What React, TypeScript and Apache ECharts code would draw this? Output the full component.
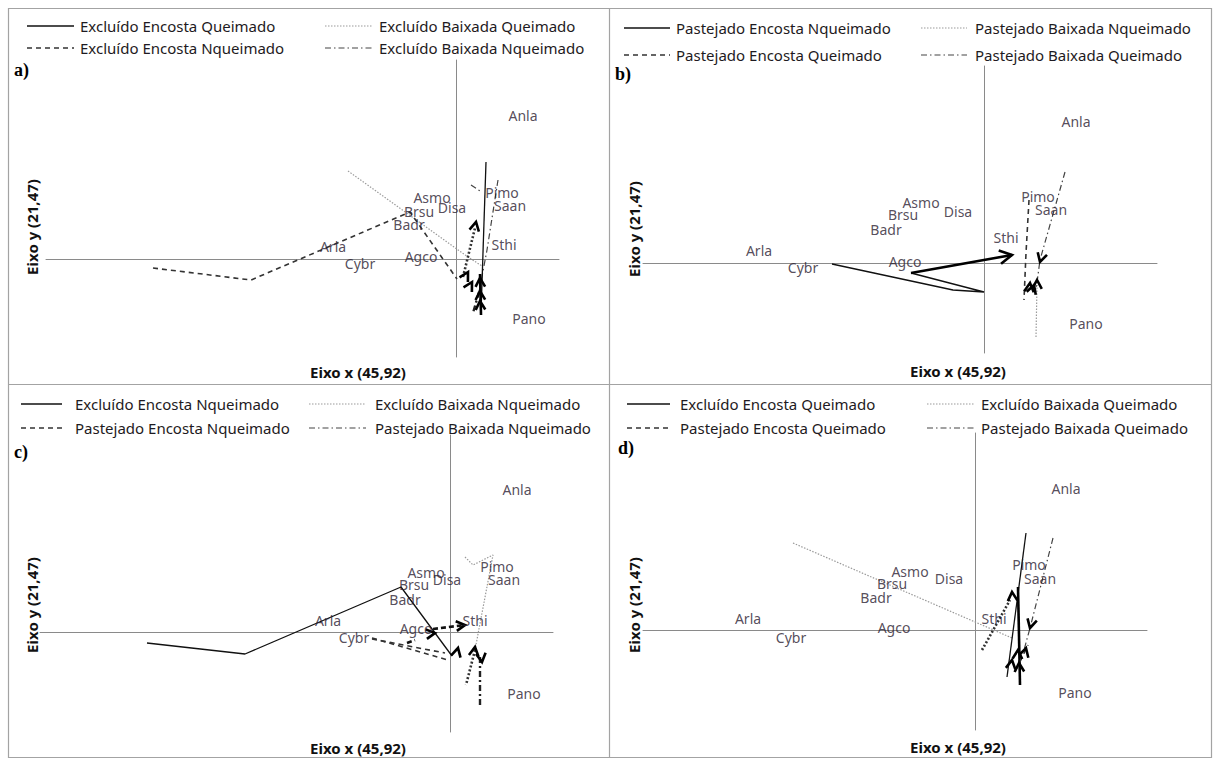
import React, { useEffect, useRef } from "react";
import * as echarts from "echarts";

// ---------- DATA ----------
const speciesNames = ["Anla", "Pimo", "Saan", "Sthi", "Asmo", "Disa", "Brsu", "Badr", "Arla", "Cybr", "Agco", "Pano"];

const aSpeciesX = [0.67, 0.46, 0.54, 0.48, -0.24, -0.04, -0.37, -0.47, -1.23, -0.96, -0.35, 0.73];
const aSpeciesY = [1.44, 0.67, 0.54, 0.15, 0.62, 0.52, 0.48, 0.35, 0.13, -0.04, 0.03, -0.59];
const bSpeciesX = [0.92, 0.54, 0.67, 0.22, -0.63, -0.26, -0.81, -0.98, -2.25, -1.81, -0.79, 1.02];
const bSpeciesY = [1.42, 0.67, 0.54, 0.26, 0.61, 0.52, 0.49, 0.34, 0.13, -0.04, 0.02, -0.6];
const cSpeciesX = [0.67, 0.47, 0.54, 0.25, -0.24, -0.03, -0.36, -0.45, -1.22, -0.96, -0.34, 0.74];
const cSpeciesY = [1.43, 0.66, 0.53, 0.12, 0.6, 0.53, 0.48, 0.33, 0.12, -0.05, 0.04, -0.61];
const dSpeciesX = [0.91, 0.54, 0.65, 0.19, -0.65, -0.26, -0.83, -0.99, -2.27, -1.84, -0.81, 1.0];
const dSpeciesY = [1.42, 0.66, 0.52, 0.12, 0.59, 0.52, 0.47, 0.33, 0.12, -0.07, 0.03, -0.62];

// axis extents per panel
const panelXRange = [[-4.1, 1.03], [-3.41, 1.73], [-4.1, 1.03], [-3.32, 1.72]];
const panelYRange = [[-0.98, 1.99], [-0.9, 1.97], [-1.0, 1.97], [-1.0, 1.97]];

// trajectories, panel a
const aExcEncQueim = [[0.3, 0.97], [0.25, -0.54]];
const aExcEncQueimB = [[0.24, -0.15], [0.25, -0.56]];
const aExcBaiQueim = [[-1.08, 0.88], [0.12, 0.02], [0.26, -0.07]];
const aExcBaiQueimB = [[0.07, -0.18], [0.19, 0.31]];
const aExcEncNqueim = [[-3.03, -0.09], [-2.05, -0.21], [-0.46, 0.47], [0.01, -0.2]];
const aExcBaiNqueim = [[0.42, 0.79], [0.31, 0.09], [0.23, -0.33]];
const aExcBaiNqueimB = [[0.23, -0.33], [0.17, -0.54]];
const aExcBaiNqueimTop = [[0.15, 0.74], [0.24, 0.68]];
const aArrows = [[0.2, 0.37, 0.12, -0.01], [0.24, -0.19, 0.25, -0.46], [0.24, -0.32, 0.25, -0.56], [0.12, -0.13, 0.02, -0.31], [0.16, -0.23, 0.07, -0.39], [0.24, -0.42, 0.25, -0.6]];

// panel b
const bPasEncNqueim = [[-1.52, -0.01], [-0.31, -0.27], [0.0, -0.29], [-0.73, -0.1]];
const bPasEncNqueimB = [[-0.73, -0.1], [0.28, 0.08]];
const bPasEncQueim = [[0.45, 0.63], [0.42, 0.1], [0.4, -0.37]];
const bPasBaiNqueim = [[0.52, -0.74], [0.53, -0.22]];
const bPasBaiQueim = [[0.81, 0.91], [0.56, 0.03], [0.52, -0.27]];
const bArrows = [[0.28, 0.08, -0.73, -0.1, 14], [0.56, 0.01, 0.81, 0.91], [0.46, -0.2, 0.44, -0.37], [0.53, -0.17, 0.53, -0.6], [0.5, -0.22, 0.46, -0.34]];

// panel c
const cExcEncNqueim = [[-3.03, -0.11], [-2.05, -0.22], [-0.49, 0.45], [0.02, -0.24]];
const cExcBaiNqueim = [[0.15, 0.75], [0.23, 0.67], [0.43, 0.77], [0.25, -0.18]];
const cExcBaiNqueimB = [[0.25, -0.18], [0.16, -0.53]];
const cPasEncNqueim = [[-0.78, -0.06], [-0.02, -0.28]];
const cPasEncNqueim2 = [[-0.78, -0.07], [-0.05, -0.21]];
const cPasEncNqueimB = [[-0.43, -0.11], [-0.35, -0.08]];
const cPasEncNqueimB2 = [[-0.17, 0.03], [0.15, 0.07]];
const cPasBaiNqueim = [[0.3, -0.73], [0.3, -0.25]];
const cArrows = [[0.08, -0.16, 0.04, -0.32], [0.25, -0.15, 0.22, -0.35], [0.32, -0.3, 0.28, 0.0], [0.15, 0.07, -0.17, 0.03], [-0.15, -0.01, -0.3, -0.03]];

// panel d
const dExcEncQueim = [[0.51, 0.97], [0.32, -0.47]];
const dExcEncQueim2 = [[0.43, 0.43], [0.45, -0.55]];
const dExcBaiQueim = [[-1.82, 0.87], [0.37, -0.08]];
const dExcBaiQueimB = [[0.07, -0.2], [0.35, 0.3]];
const dPasBaiQueim = [[0.78, 0.92], [0.55, 0.02], [0.49, -0.2]];
const dPasEncQueim = [[0.41, -0.4], [0.53, -0.15]];
const dArrows = [[0.37, 0.38, 0.39, 0.1], [0.55, 0.02, 0.78, 0.92], [0.43, -0.2, 0.41, -0.5], [0.51, -0.18, 0.45, -0.4], [0.37, -0.3, 0.33, -0.55], [0.44, -0.33, 0.45, -0.55]];

const aLegend = ["Excluído Encosta Queimado", "Excluído Baixada Queimado", "Excluído Encosta Nqueimado", "Excluído Baixada Nqueimado"];
const bLegend = ["Pastejado Encosta Nqueimado", "Pastejado Baixada Nqueimado", "Pastejado Encosta Queimado", "Pastejado Baixada Queimado"];
const cLegend = ["Excluído Encosta Nqueimado", "Excluído Baixada Nqueimado", "Pastejado Encosta Nqueimado", "Pastejado Baixada Nqueimado"];
const dLegend = ["Excluído Encosta Queimado", "Excluído Baixada Queimado", "Pastejado Encosta Queimado", "Pastejado Baixada Queimado"];

const panelLetters = ["a)", "b)", "c)", "d)"];
const xAxisTitle = "Eixo x (45,92)";
const yAxisTitle = "Eixo y (21,47)";

// ---------- STYLES / LAYOUT ----------
const FONT = "'Noto Sans', 'Open Sans', sans-serif";
const lineStyles: Record<string, any> = {
  solid: { color: "#111", width: 1.3, type: "solid" },
  solidBold: { color: "#000", width: 2.6, type: "solid" },
  dashed: { color: "#333", width: 1.6, type: [5, 4] },
  dashedBold: { color: "#111", width: 2.6, type: [5, 3] },
  dotted: { color: "#9a9a9a", width: 1.2, type: [1.5, 1.5] },
  dottedBold: { color: "#333", width: 2.6, type: [2, 2] },
  dashdot: { color: "#444", width: 1.2, type: [6, 3, 1.5, 3] },
  dashdotBold: { color: "#222", width: 2.4, type: [6, 3, 2, 3] },
};

const grids = [
  { left: 46, top: 60, width: 513, height: 297 },
  { left: 643, top: 66, width: 514, height: 287 },
  { left: 40, top: 435, width: 513, height: 297 },
  { left: 643, top: 433, width: 504, height: 297 },
];

const legendLayout = [
  { y1: 26, y2: 48, ls: [27, 74], lt: 80, rs: [325, 372], rt: 379 },
  { y1: 28, y2: 55, ls: [624, 670], lt: 676, rs: [921, 967], rt: 975 },
  { y1: 404, y2: 428, ls: [21, 62], lt: 75, rs: [309, 366], rt: 375 },
  { y1: 404, y2: 428, ls: [627, 670], lt: 680, rs: [927, 974], rt: 981 },
];
const letterPos = [[14, 70], [615, 74], [14, 452], [618, 448]];
const xTitlePos = [[358, 372], [958, 371], [358, 748], [958, 747]];
const yTitlePos = [[32, 227], [634, 229], [32, 605], [634, 605]];

const panelSpecies = [
  [aSpeciesX, aSpeciesY],
  [bSpeciesX, bSpeciesY],
  [cSpeciesX, cSpeciesY],
  [dSpeciesX, dSpeciesY],
];

const panelLines: [number[][], string][][] = [
  [
    [aExcBaiQueim, "dotted"],
    [aExcEncNqueim, "dashed"],
    [aExcBaiNqueimTop, "dashdot"],
    [aExcBaiNqueim, "dashdot"],
    [aExcBaiNqueimB, "dashdotBold"],
    [aExcBaiQueimB, "dottedBold"],
    [aExcEncQueim, "solid"],
    [aExcEncQueimB, "solidBold"],
  ],
  [
    [bPasEncNqueim, "solid"],
    [bPasEncNqueimB, "solidBold"],
    [bPasEncQueim, "dashed"],
    [bPasBaiNqueim, "dotted"],
    [bPasBaiQueim, "dashdot"],
  ],
  [
    [cExcEncNqueim, "solid"],
    [cExcBaiNqueim, "dotted"],
    [cExcBaiNqueimB, "dottedBold"],
    [cPasEncNqueim, "dashed"],
    [cPasEncNqueim2, "dashed"],
    [cPasEncNqueimB, "dashedBold"],
    [cPasEncNqueimB2, "dashedBold"],
    [cPasBaiNqueim, "dashdotBold"],
  ],
  [
    [dExcBaiQueim, "dotted"],
    [dExcBaiQueimB, "dottedBold"],
    [dExcEncQueim, "solid"],
    [dExcEncQueim2, "solidBold"],
    [dPasBaiQueim, "dashdot"],
    [dPasEncQueim, "dashed"],
  ],
];
const panelArrows = [aArrows, bArrows, cArrows, dArrows];
const panelLegends = [aLegend, bLegend, cLegend, dLegend];

function buildOption() {
  const series: any[] = [];
  const xAxis: any[] = [];
  const yAxis: any[] = [];
  const graphic: any[] = [];

  grids.forEach((g, i) => {
    const axisCommon = {
      gridIndex: i,
      type: "value",
      axisLine: { show: true, onZero: true, lineStyle: { color: "#8a8a8a", width: 1 } },
      axisTick: { show: false },
      axisLabel: { show: false },
      splitLine: { show: false },
    };
    xAxis.push({ ...axisCommon, min: panelXRange[i][0], max: panelXRange[i][1] });
    yAxis.push({ ...axisCommon, min: panelYRange[i][0], max: panelYRange[i][1] });

    panelLines[i].forEach(([data, st], k) => {
      series.push({
        type: "line",
        name: `p${i}-l${k}`,
        xAxisIndex: i,
        yAxisIndex: i,
        data,
        symbol: "none",
        showSymbol: false,
        silent: true,
        lineStyle: lineStyles[st],
        z: 3,
      });
    });

    series.push({
      type: "custom",
      name: `p${i}-arrows`,
      xAxisIndex: i,
      yAxisIndex: i,
      silent: true,
      z: 4,
      data: panelArrows[i],
      encode: { x: [0, 2], y: [1, 3] },
      renderItem: (params: any, api: any) => {
        const tip = api.coord([api.value(0), api.value(1)]);
        const tail = api.coord([api.value(2), api.value(3)]);
        const size = api.value(4) || 10;
        const ang = Math.atan2(tip[1] - tail[1], tip[0] - tail[0]);
        const spread = 0.5;
        const p1 = [tip[0] - size * Math.cos(ang - spread), tip[1] - size * Math.sin(ang - spread)];
        const p2 = [tip[0] - size * Math.cos(ang + spread), tip[1] - size * Math.sin(ang + spread)];
        return {
          type: "polyline",
          shape: { points: [p1, tip, p2] },
          style: { stroke: "#000", lineWidth: 2.6, fill: "none" },
        };
      },
    });

    const [sx, sy] = panelSpecies[i];
    series.push({
      type: "scatter",
      name: `p${i}-species`,
      xAxisIndex: i,
      yAxisIndex: i,
      symbol: "circle",
      symbolSize: 1,
      silent: true,
      itemStyle: { color: "rgba(0,0,0,0)" },
      z: 5,
      label: {
        show: true,
        position: "inside",
        formatter: "{b}",
        color: "#2a2030",
        fontSize: 14,
        fontFamily: FONT,
      },
      data: speciesNames.map((n, j) => ({ name: n, value: [sx[j], sy[j]] })),
    });

    // legend (drawn)
    const L = legendLayout[i];
    const names = panelLegends[i];
    const items = [
      { sample: L.ls, tx: L.lt, y: L.y1, st: { stroke: "#111", lineWidth: 1.3 }, name: names[0] },
      { sample: L.rs, tx: L.rt, y: L.y1, st: { stroke: "#9a9a9a", lineWidth: 1.2, lineDash: [1.5, 1.5] }, name: names[1] },
      { sample: L.ls, tx: L.lt, y: L.y2, st: { stroke: "#333", lineWidth: 1.4, lineDash: [5, 4] }, name: names[2] },
      { sample: L.rs, tx: L.rt, y: L.y2, st: { stroke: "#444", lineWidth: 1.2, lineDash: [6, 3, 1.5, 3] }, name: names[3] },
    ];
    items.forEach((it) => {
      graphic.push({
        type: "line",
        silent: true,
        shape: { x1: it.sample[0], y1: it.y, x2: it.sample[1], y2: it.y },
        style: it.st,
      });
      graphic.push({
        type: "text",
        silent: true,
        x: it.tx,
        y: it.y,
        style: {
          text: it.name,
          fill: "#1e1a22",
          fontSize: 15,
          fontFamily: FONT,
          textAlign: "left",
          textVerticalAlign: "middle",
        },
      });
    });

    graphic.push({
      type: "text",
      silent: true,
      x: letterPos[i][0],
      y: letterPos[i][1],
      style: {
        text: panelLetters[i],
        fill: "#000",
        fontSize: 18,
        fontWeight: "bold",
        fontFamily: "'Liberation Serif', 'DejaVu Serif', serif",
        textAlign: "left",
        textVerticalAlign: "middle",
      },
    });
    graphic.push({
      type: "text",
      silent: true,
      x: xTitlePos[i][0],
      y: xTitlePos[i][1],
      style: {
        text: xAxisTitle,
        fill: "#111",
        fontSize: 15,
        fontWeight: "bold",
        fontFamily: FONT,
        textAlign: "center",
        textVerticalAlign: "middle",
      },
    });
    graphic.push({
      type: "text",
      silent: true,
      x: yTitlePos[i][0],
      y: yTitlePos[i][1],
      rotation: Math.PI / 2,
      style: {
        text: yAxisTitle,
        fill: "#111",
        fontSize: 15,
        fontWeight: "bold",
        fontFamily: FONT,
        textAlign: "center",
        textVerticalAlign: "middle",
      },
    });
  });

  // panel borders
  graphic.push({
    type: "rect",
    silent: true,
    shape: { x: 8.5, y: 8.5, width: 1203, height: 749 },
    style: { fill: "none", stroke: "#a3a3a3", lineWidth: 1.2 },
  });
  graphic.push({
    type: "line",
    silent: true,
    shape: { x1: 609.5, y1: 8.5, x2: 609.5, y2: 757.5 },
    style: { stroke: "#a3a3a3", lineWidth: 1.2 },
  });
  graphic.push({
    type: "line",
    silent: true,
    shape: { x1: 8.5, y1: 384.5, x2: 1211.5, y2: 384.5 },
    style: { stroke: "#a3a3a3", lineWidth: 1.2 },
  });

  return {
    animation: false,
    backgroundColor: "#ffffff",
    grid: grids.map((g) => ({ ...g, containLabel: false })),
    xAxis,
    yAxis,
    series,
    graphic,
  };
}

export default function App() {
  const ref = useRef<HTMLDivElement>(null);
  useEffect(() => {
    if (!ref.current) return;
    const chart = echarts.init(ref.current, null, { renderer: "svg" });
    chart.setOption(buildOption() as any);
    return () => chart.dispose();
  }, []);
  return (
    <div
      ref={ref}
      style={{ position: "absolute", left: 0, top: 0, width: 1215, height: 758, background: "#fff" }}
    />
  );
}
